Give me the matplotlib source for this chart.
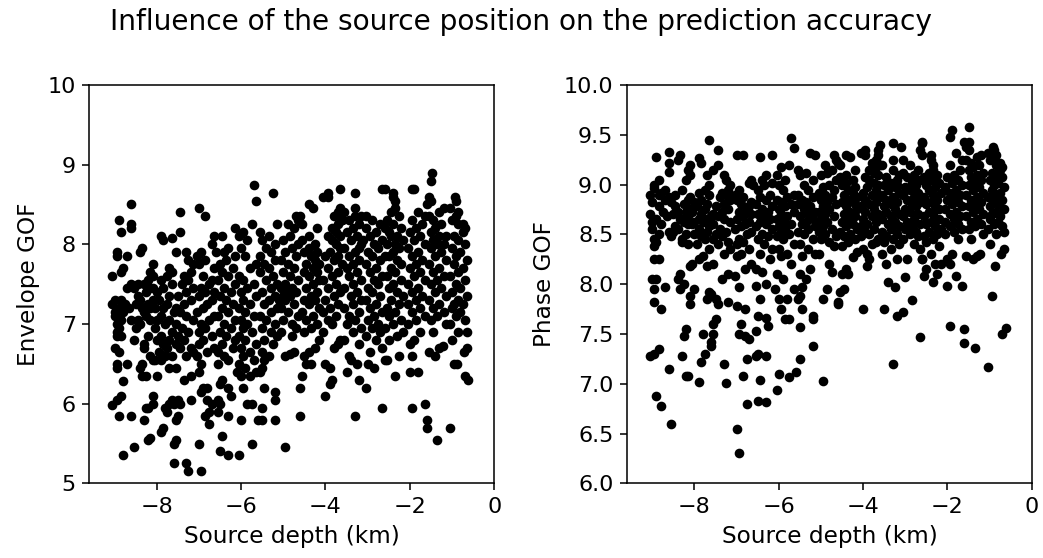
import matplotlib

matplotlib.use("Agg")

import matplotlib.pyplot as plt
import numpy as np

# source depth (km), one entry per event, shared by both panels
depth_km = [
    -8.8, -8.9, -8.6, -9.05, -8.95, -8.85, -8.8, -8.95, -8.95, -8.7, -8.9, -9.0, -8.95, -8.85, -8.95, -8.9, -8.95, -8.85, -8.6, -9.0, -8.8, -9.0, -8.9, -8.65, -9.05, -8.75, -8.85, -9.0, -8.7, -8.6, -9.05, -8.85, -8.8, -8.7, -8.95, -8.95, -8.85, -8.6, -8.6, -8.9, -8.6,
    -8.55, -8.2, -8.15, -8.3, -8.25, -8.2, -8.1, -8.1, -8.35, -8.25, -8.4, -8.35, -8.1, -8.15, -8.3, -8.3, -8.55, -8.2, -8.5, -8.4, -8.45, -8.15, -8.25, -8.3, -8.35, -8.15, -8.5, -8.2, -8.4, -8.1, -8.45, -8.25, -8.55, -8.15, -8.45, -8.3, -8.2, -8.1, -8.15, -8.1, -8.4, -8.35,
    -7.9, -7.85, -7.75, -7.8, -7.7, -7.6, -7.65, -8.0, -7.7, -8.05, -7.9, -7.8, -7.65, -7.95, -7.75, -7.85, -8.0, -7.7, -7.9, -7.65, -8.05, -7.8, -8.0, -7.7, -7.9, -7.6, -7.85, -8.05, -7.75, -7.95, -7.7, -8.0, -7.85, -8.1, -7.65, -7.9, -7.75, -7.65, -7.7, -7.85, -7.9, -7.65,
    -7.25, -7.3, -7.6, -7.6, -7.55, -7.55, -7.5, -7.45, -7.2, -7.5, -7.35, -7.2, -7.55, -7.3, -7.15, -7.45, -7.2, -7.55, -7.35, -7.5, -7.25, -7.4, -7.55, -7.15, -7.3, -7.45, -7.55, -7.35, -7.2, -7.5, -7.3, -7.15, -7.4, -7.25, -7.35, -7.2, -7.15, -7.25, -7.3, -7.55, -7.45, -7.45,
    -6.95, -7.0, -6.75, -6.85, -6.75, -6.7, -6.8, -6.95, -6.9, -6.8, -7.0, -6.95, -7.05, -6.8, -6.65, -7.0, -6.9, -6.7, -7.0, -6.85, -6.95, -6.75, -6.65, -7.05, -6.9, -6.8, -6.7, -7.0, -6.85, -6.65, -6.95, -6.75, -6.7, -6.9, -6.65, -7.0, -6.85, -7.05, -6.95, -6.6, -6.7, -6.65, -6.85, -7.0,
    -6.3, -6.5, -6.45, -6.3, -6.55, -6.5, -6.55, -6.25, -6.3, -6.5, -6.45, -6.1, -6.55, -6.3, -6.4, -6.55, -6.2, -6.45, -6.15, -6.35, -6.5, -6.25, -6.4, -6.15, -6.55, -6.3, -6.45, -6.2, -6.35, -6.5, -6.25, -6.4, -6.15, -6.55, -6.3, -6.45, -6.2, -6.5, -6.35, -6.15, -6.4, -6.3, -6.45, -6.15,
    -6.05, -5.75, -6.0, -5.6, -5.85, -5.75, -5.95, -6.0, -5.8, -5.65, -5.9, -6.05, -5.7, -5.95, -5.8, -6.0, -5.65, -5.9, -6.05, -5.75, -5.95, -5.85, -6.0, -5.7, -5.9, -6.05, -5.8, -5.95, -5.65, -6.0, -5.85, -5.7, -5.95, -6.05, -5.8, -5.65, -5.9, -6.0, -5.85, -6.05, -5.95, -5.75, -5.65, -5.7,
    -5.5, -5.2, -5.5, -5.2, -5.2, -5.45, -5.55, -5.5, -5.45, -5.35, -5.5, -5.25, -5.45, -5.15, -5.3, -5.5, -5.2, -5.4, -5.55, -5.3, -5.15, -5.45, -5.35, -5.2, -5.5, -5.3, -5.15, -5.4, -5.25, -5.55, -5.35, -5.45, -5.2, -5.55, -5.3, -5.4, -5.2, -5.5, -5.35, -5.55, -5.15, -5.25,
    -4.95, -4.6, -4.6, -4.95, -4.85, -4.75, -4.8, -5.05, -4.7, -4.8, -5.0, -4.65, -4.9, -5.05, -4.75, -4.95, -5.1, -4.85, -5.0, -4.7, -4.9, -5.05, -4.8, -4.95, -4.65, -4.85, -5.0, -4.75, -4.9, -5.05, -4.7, -4.95, -4.8, -4.65, -5.0, -4.85, -4.75, -4.9, -4.65, -4.7,
    -4.55, -4.45, -4.35, -4.5, -4.4, -4.25, -4.15, -4.5, -4.35, -4.2, -4.45, -4.3, -4.55, -4.15, -4.4, -4.25, -4.5, -4.35, -4.2, -4.45, -4.3, -4.15, -4.4, -4.2, -4.5, -4.3, -4.15, -4.45, -4.25, -4.35, -4.2, -4.5, -4.4, -4.25, -4.55, -4.4, -4.2, -4.55, -4.6, -4.3, -4.4, -4.05,
    -4.0, -3.9, -3.85, -3.9, -4.0, -3.8, -3.7, -3.65, -4.05, -3.85, -3.95, -3.75, -4.05, -3.9, -3.7, -4.0, -3.8, -3.65, -3.95, -3.75, -4.05, -3.85, -3.7, -3.95, -3.6, -3.8, -4.0, -3.7, -3.9, -3.65, -3.75, -3.85, -3.95, -3.65, -3.75, -3.85, -3.7, -3.6, -3.8, -3.7, -3.65, -3.95, -3.95, -3.65,
    -3.3, -3.2, -3.5, -3.25, -3.4, -3.45, -3.2, -3.55, -3.35, -3.15, -3.5, -3.3, -3.45, -3.2, -3.55, -3.35, -3.15, -3.4, -3.25, -3.55, -3.35, -3.15, -3.45, -3.25, -3.5, -3.35, -3.2, -3.45, -3.3, -3.55, -3.15, -3.4, -3.25, -3.5, -3.35, -3.2, -3.45, -3.15, -3.3, -3.55, -3.3, -3.6, -3.3, -3.2,
    -2.65, -3.05, -2.85, -3.0, -2.6, -2.95, -2.65, -2.8, -3.05, -2.7, -2.9, -2.75, -3.0, -2.85, -2.65, -2.95, -2.8, -3.05, -2.7, -2.9, -3.0, -2.75, -2.85, -2.65, -2.95, -2.8, -3.05, -2.7, -2.9, -3.0, -2.75, -2.85, -2.65, -2.95, -2.8, -3.05, -2.7, -2.9, -3.05, -2.6, -3.1, -2.6,
    -2.35, -2.55, -2.25, -2.5, -2.3, -2.15, -2.6, -2.4, -2.2, -2.5, -2.35, -2.55, -2.25, -2.45, -2.15, -2.3, -2.5, -2.4, -2.2, -2.55, -2.35, -2.45, -2.2, -2.3, -2.5, -2.4, -2.25, -2.55, -2.35, -2.15, -2.45, -2.3, -2.5, -2.2, -2.4, -2.55, -2.25, -2.45, -2.35, -2.35, -2.4, -2.4, -2.65, -2.6,
    -1.6, -1.6, -1.95, -1.65, -2.0, -1.8, -1.95, -2.0, -1.9, -1.75, -2.05, -1.85, -1.65, -1.95, -1.75, -2.05, -1.85, -1.7, -1.95, -1.8, -2.05, -1.65, -1.9, -1.75, -2.0, -1.85, -1.7, -1.95, -1.8, -2.05, -1.65, -1.9, -1.75, -2.0, -1.85, -1.7, -1.95, -1.65, -1.8, -1.6, -1.95, -1.9,
    -1.35, -1.4, -1.55, -1.3, -1.22, -1.45, -1.15, -1.5, -1.35, -1.2, -1.45, -1.3, -1.55, -1.15, -1.4, -1.25, -1.5, -1.35, -1.2, -1.45, -1.3, -1.55, -1.15, -1.4, -1.25, -1.5, -1.35, -1.2, -1.45, -1.3, -1.15, -1.5, -1.4, -1.25, -1.45, -1.55, -1.3, -1.2, -1.5, -1.55, -1.5, -1.48,
    -1.05, -0.62, -0.7, -0.95, -0.88, -0.72, -0.65, -1.0, -0.85, -0.65, -1.05, -0.7, -0.9, -0.8, -1.0, -0.75, -0.95, -0.85, -0.65, -1.0, -0.8, -0.9, -0.7, -1.05, -0.85, -0.75, -0.95, -0.65, -0.9, -0.8, -1.0, -0.7, -0.85, -0.95, -0.75, -0.7, -0.85, -0.75, -1.0, -0.9, -0.85, -1.05, -0.9, -0.92,
]

envelope_gof = [
    5.35, 5.85, 5.85, 5.98, 6.05, 6.1, 6.28, 6.45, 6.5, 6.5, 6.65, 6.7, 6.85, 6.85, 6.9, 6.95, 7.0, 7.05, 7.05, 7.1, 7.15, 7.15, 7.2, 7.2, 7.25, 7.25, 7.3, 7.3, 7.45, 7.5, 7.6, 7.65, 7.7, 7.85, 7.85, 7.9, 8.15, 8.2, 8.25, 8.3, 8.5,
    5.45, 5.55, 5.57, 5.8, 5.95, 5.95, 6.0, 6.1, 6.35, 6.35, 6.45, 6.5, 6.55, 6.6, 6.7, 6.75, 6.8, 6.85, 6.95, 7.0, 7.05, 7.05, 7.1, 7.15, 7.2, 7.2, 7.25, 7.25, 7.3, 7.3, 7.35, 7.4, 7.45, 7.45, 7.5, 7.5, 7.55, 7.6, 7.65, 7.75, 7.9, 7.95,
    5.65, 5.7, 5.9, 5.95, 6.0, 6.0, 6.05, 6.35, 6.45, 6.55, 6.55, 6.6, 6.6, 6.65, 6.7, 6.75, 6.8, 6.8, 6.85, 6.9, 6.95, 7.0, 7.05, 7.05, 7.1, 7.15, 7.2, 7.2, 7.25, 7.3, 7.35, 7.4, 7.45, 7.45, 7.5, 7.55, 7.6, 7.65, 7.7, 8.05, 8.1, 8.08,
    5.15, 5.25, 5.25, 5.5, 5.55, 5.8, 5.85, 6.0, 6.05, 6.05, 6.3, 6.35, 6.45, 6.6, 6.65, 6.7, 6.7, 6.75, 6.8, 6.85, 6.9, 6.95, 7.0, 7.05, 7.1, 7.15, 7.2, 7.25, 7.3, 7.35, 7.4, 7.45, 7.5, 7.55, 7.6, 7.65, 7.75, 7.8, 7.9, 7.9, 8.15, 8.4,
    5.15, 5.5, 5.75, 5.85, 5.9, 6.0, 6.05, 6.15, 6.2, 6.2, 6.4, 6.5, 6.6, 6.65, 6.7, 6.75, 6.8, 6.85, 6.9, 6.95, 7.0, 7.05, 7.1, 7.15, 7.2, 7.25, 7.3, 7.35, 7.4, 7.4, 7.45, 7.5, 7.55, 7.6, 7.7, 7.75, 7.8, 7.85, 7.9, 7.9, 8.0, 8.1, 8.35, 8.45,
    5.35, 5.4, 5.6, 5.85, 5.9, 6.0, 6.05, 6.1, 6.2, 6.25, 6.3, 6.4, 6.5, 6.55, 6.6, 6.65, 6.7, 6.75, 6.8, 6.85, 6.9, 6.95, 7.0, 7.05, 7.1, 7.15, 7.2, 7.25, 7.3, 7.35, 7.4, 7.45, 7.5, 7.55, 7.6, 7.65, 7.7, 7.75, 7.8, 7.85, 7.9, 7.95, 8.1, 8.2,
    5.35, 5.5, 5.8, 5.8, 6.0, 6.0, 6.2, 6.35, 6.35, 6.4, 6.45, 6.5, 6.55, 6.6, 6.65, 6.7, 6.75, 6.8, 6.85, 6.9, 6.95, 7.0, 7.05, 7.1, 7.15, 7.2, 7.25, 7.3, 7.35, 7.4, 7.45, 7.5, 7.55, 7.6, 7.7, 7.75, 7.85, 7.95, 8.05, 8.1, 8.15, 8.25, 8.55, 8.75,
    5.8, 5.8, 5.95, 6.05, 6.15, 6.2, 6.4, 6.45, 6.55, 6.6, 6.65, 6.75, 6.8, 6.85, 6.9, 6.95, 7.0, 7.05, 7.1, 7.15, 7.2, 7.25, 7.3, 7.35, 7.4, 7.45, 7.5, 7.55, 7.6, 7.65, 7.7, 7.75, 7.8, 7.85, 7.9, 7.95, 8.0, 8.05, 8.1, 8.15, 8.25, 8.65,
    5.45, 5.85, 6.2, 6.6, 6.62, 6.65, 6.85, 6.9, 6.95, 7.0, 7.05, 7.1, 7.15, 7.2, 7.25, 7.3, 7.3, 7.35, 7.35, 7.4, 7.4, 7.45, 7.45, 7.5, 7.55, 7.6, 7.65, 7.7, 7.75, 7.8, 7.85, 7.9, 7.95, 8.0, 8.05, 8.1, 8.2, 8.25, 8.3, 8.35,
    6.35, 6.5, 6.5, 6.6, 6.65, 6.7, 6.8, 6.9, 6.95, 7.0, 7.05, 7.1, 7.15, 7.2, 7.25, 7.3, 7.3, 7.35, 7.4, 7.45, 7.5, 7.55, 7.6, 7.65, 7.65, 7.7, 7.75, 7.75, 7.8, 7.85, 7.9, 7.9, 7.95, 8.0, 8.05, 8.1, 8.2, 8.25, 8.35, 8.45, 8.5, 8.6,
    6.1, 6.25, 6.3, 6.45, 6.5, 6.7, 6.75, 6.8, 6.9, 7.0, 7.05, 7.1, 7.15, 7.2, 7.25, 7.3, 7.35, 7.4, 7.45, 7.5, 7.55, 7.6, 7.65, 7.7, 7.75, 7.8, 7.85, 7.85, 7.9, 7.95, 8.0, 8.05, 8.1, 8.1, 8.15, 8.2, 8.25, 8.3, 8.35, 8.4, 8.45, 8.6, 8.65, 8.7,
    5.85, 6.3, 6.4, 6.5, 6.55, 6.6, 6.75, 6.8, 6.9, 6.95, 7.0, 7.05, 7.1, 7.15, 7.2, 7.25, 7.3, 7.35, 7.4, 7.45, 7.5, 7.55, 7.6, 7.65, 7.7, 7.75, 7.8, 7.85, 7.9, 7.95, 8.0, 8.05, 8.1, 8.15, 8.2, 8.25, 8.3, 8.35, 8.35, 8.4, 8.45, 8.3, 8.65, 7.95,
    5.95, 6.2, 6.45, 6.5, 6.55, 6.65, 6.7, 6.8, 6.85, 6.9, 6.95, 7.0, 7.05, 7.1, 7.15, 7.2, 7.25, 7.3, 7.35, 7.4, 7.45, 7.5, 7.55, 7.6, 7.65, 7.7, 7.75, 7.8, 7.85, 7.9, 7.95, 8.0, 8.05, 8.1, 8.15, 8.2, 8.25, 8.3, 8.35, 8.2, 8.05, 7.85,
    6.35, 6.55, 6.6, 6.8, 6.85, 6.9, 6.95, 7.0, 7.05, 7.1, 7.15, 7.2, 7.25, 7.3, 7.35, 7.4, 7.45, 7.5, 7.55, 7.6, 7.65, 7.7, 7.75, 7.8, 7.85, 7.9, 7.95, 8.0, 8.0, 8.05, 8.1, 8.1, 8.15, 8.2, 8.25, 8.3, 8.35, 8.4, 8.45, 8.55, 8.6, 8.65, 8.7, 8.7,
    5.7, 5.8, 5.95, 6.0, 6.4, 6.4, 6.6, 6.75, 6.8, 6.9, 7.0, 7.05, 7.1, 7.15, 7.2, 7.25, 7.3, 7.35, 7.4, 7.45, 7.5, 7.55, 7.6, 7.65, 7.7, 7.75, 7.8, 7.85, 7.9, 7.95, 8.0, 8.05, 8.1, 8.15, 8.2, 8.25, 8.3, 8.35, 8.4, 8.5, 8.7, 8.7,
    5.55, 6.6, 6.65, 6.7, 6.72, 6.9, 7.0, 7.05, 7.1, 7.15, 7.2, 7.25, 7.3, 7.35, 7.4, 7.45, 7.5, 7.55, 7.6, 7.65, 7.7, 7.75, 7.8, 7.85, 7.9, 7.95, 8.0, 8.0, 8.05, 8.1, 8.1, 8.15, 8.2, 8.25, 8.3, 8.35, 8.4, 8.45, 8.55, 8.6, 8.8, 8.9,
    5.7, 6.3, 6.35, 6.5, 6.5, 6.65, 6.7, 6.8, 6.9, 6.9, 7.0, 7.05, 7.1, 7.15, 7.2, 7.25, 7.25, 7.3, 7.35, 7.4, 7.45, 7.5, 7.55, 7.6, 7.65, 7.7, 7.75, 7.8, 7.85, 7.9, 7.95, 8.0, 8.05, 8.1, 8.15, 8.2, 8.25, 8.25, 8.3, 8.35, 8.4, 8.45, 8.55, 8.6,
]

phase_gof = [
    6.78, 6.88, 7.15, 7.28, 7.3, 7.35, 7.75, 7.82, 7.95, 7.97, 8.05, 8.05, 8.25, 8.25, 8.38, 8.42, 8.45, 8.5, 8.52, 8.55, 8.6, 8.62, 8.65, 8.68, 8.7, 8.72, 8.78, 8.82, 8.85, 8.88, 8.9, 8.9, 8.92, 8.95, 8.97, 9.0, 9.05, 9.13, 9.22, 9.28, 9.33,
    6.6, 7.08, 7.08, 7.28, 7.48, 7.55, 7.8, 7.88, 7.95, 8.0, 8.05, 8.1, 8.18, 8.4, 8.42, 8.45, 8.48, 8.5, 8.52, 8.55, 8.58, 8.6, 8.62, 8.65, 8.65, 8.68, 8.7, 8.72, 8.72, 8.75, 8.78, 8.8, 8.82, 8.85, 8.9, 8.95, 9.05, 9.1, 9.15, 9.2, 9.25, 9.3,
    7.02, 7.22, 7.3, 7.5, 7.85, 7.9, 7.92, 7.95, 8.18, 8.2, 8.25, 8.28, 8.35, 8.4, 8.45, 8.48, 8.5, 8.52, 8.55, 8.58, 8.6, 8.62, 8.62, 8.65, 8.65, 8.68, 8.7, 8.72, 8.75, 8.78, 8.8, 8.82, 8.85, 8.88, 8.9, 8.92, 8.95, 9.0, 9.1, 9.22, 9.27, 9.45,
    7.01, 7.2, 7.38, 7.42, 7.5, 7.6, 7.65, 7.8, 7.82, 7.85, 8.05, 8.1, 8.2, 8.3, 8.35, 8.4, 8.42, 8.45, 8.48, 8.5, 8.52, 8.55, 8.6, 8.62, 8.65, 8.68, 8.7, 8.72, 8.75, 8.78, 8.8, 8.85, 8.88, 8.9, 8.92, 8.95, 9.0, 9.05, 9.1, 9.15, 9.2, 9.35,
    6.3, 6.55, 6.8, 7.08, 7.25, 7.45, 7.48, 7.5, 7.6, 7.75, 7.78, 7.97, 8.08, 8.15, 8.2, 8.28, 8.3, 8.35, 8.4, 8.42, 8.45, 8.5, 8.52, 8.55, 8.58, 8.6, 8.62, 8.65, 8.68, 8.7, 8.72, 8.75, 8.78, 8.8, 8.82, 8.85, 8.88, 8.9, 8.95, 9.0, 9.02, 9.05, 9.3, 9.3,
    6.82, 6.83, 7.04, 7.28, 7.28, 7.3, 7.53, 7.58, 7.66, 7.68, 7.85, 7.95, 7.98, 8.0, 8.12, 8.15, 8.25, 8.3, 8.35, 8.4, 8.45, 8.48, 8.5, 8.55, 8.58, 8.6, 8.62, 8.65, 8.68, 8.7, 8.72, 8.75, 8.78, 8.8, 8.85, 8.88, 8.9, 8.95, 9.0, 9.02, 9.05, 9.1, 9.28, 9.3,
    6.94, 7.07, 7.1, 7.12, 7.65, 7.65, 7.75, 7.85, 7.85, 7.95, 8.05, 8.1, 8.2, 8.28, 8.3, 8.35, 8.4, 8.45, 8.48, 8.5, 8.52, 8.55, 8.58, 8.6, 8.62, 8.65, 8.68, 8.7, 8.72, 8.75, 8.78, 8.8, 8.82, 8.85, 8.88, 8.9, 8.95, 9.0, 9.05, 9.1, 9.18, 9.2, 9.37, 9.47,
    7.25, 7.38, 7.57, 7.65, 7.68, 7.75, 7.85, 7.88, 7.97, 8.05, 8.1, 8.15, 8.28, 8.3, 8.35, 8.4, 8.45, 8.5, 8.52, 8.55, 8.58, 8.6, 8.62, 8.65, 8.68, 8.7, 8.72, 8.75, 8.78, 8.8, 8.82, 8.85, 8.88, 8.9, 8.95, 9.0, 9.05, 9.1, 9.12, 9.15, 9.3, 9.32,
    7.03, 7.8, 7.82, 7.85, 7.95, 8.12, 8.2, 8.3, 8.38, 8.42, 8.45, 8.48, 8.5, 8.52, 8.55, 8.58, 8.6, 8.62, 8.65, 8.68, 8.7, 8.72, 8.75, 8.78, 8.8, 8.82, 8.85, 8.88, 8.9, 8.92, 8.95, 8.98, 9.0, 9.05, 9.1, 9.12, 9.15, 9.2, 9.25, 9.3,
    7.92, 7.95, 8.1, 8.1, 8.15, 8.27, 8.32, 8.38, 8.42, 8.45, 8.48, 8.5, 8.52, 8.55, 8.58, 8.6, 8.62, 8.65, 8.68, 8.7, 8.72, 8.75, 8.78, 8.8, 8.82, 8.85, 8.88, 8.9, 8.92, 8.95, 8.98, 9.0, 9.02, 9.05, 9.08, 9.1, 9.15, 9.2, 9.22, 9.28, 9.3, 9.32,
    7.75, 8.18, 8.25, 8.3, 8.35, 8.4, 8.42, 8.45, 8.48, 8.5, 8.52, 8.55, 8.58, 8.6, 8.62, 8.65, 8.68, 8.7, 8.72, 8.75, 8.78, 8.8, 8.82, 8.85, 8.88, 8.9, 8.92, 8.95, 8.98, 9.0, 9.02, 9.05, 9.08, 9.1, 9.12, 9.15, 9.18, 9.2, 9.22, 9.25, 9.3, 9.3, 9.35, 9.35,
    7.2, 7.68, 7.75, 7.97, 8.02, 8.2, 8.25, 8.3, 8.35, 8.4, 8.42, 8.45, 8.48, 8.5, 8.52, 8.55, 8.58, 8.6, 8.62, 8.65, 8.68, 8.7, 8.72, 8.75, 8.78, 8.8, 8.82, 8.85, 8.88, 8.9, 8.92, 8.95, 8.98, 9.0, 9.02, 9.05, 9.08, 9.1, 9.15, 9.2, 9.25, 9.4, 9.42, 9.0,
    7.47, 7.72, 7.84, 8.07, 8.25, 8.25, 8.35, 8.4, 8.45, 8.48, 8.5, 8.52, 8.55, 8.58, 8.6, 8.62, 8.65, 8.68, 8.7, 8.72, 8.75, 8.78, 8.8, 8.82, 8.85, 8.88, 8.9, 8.92, 8.95, 8.98, 9.0, 9.02, 9.05, 9.08, 9.1, 9.12, 9.15, 9.2, 9.25, 9.3, 9.38, 9.42,
    8.02, 8.08, 8.1, 8.15, 8.2, 8.2, 8.25, 8.3, 8.38, 8.42, 8.45, 8.48, 8.5, 8.52, 8.55, 8.58, 8.6, 8.62, 8.65, 8.68, 8.7, 8.72, 8.75, 8.78, 8.8, 8.82, 8.85, 8.88, 8.9, 8.92, 8.95, 8.98, 9.0, 9.02, 9.05, 9.08, 9.1, 9.12, 9.15, 9.2, 9.25, 9.3, 9.35, 9.43,
    7.41, 7.55, 7.58, 7.98, 7.98, 8.08, 8.2, 8.25, 8.3, 8.45, 8.5, 8.52, 8.55, 8.58, 8.6, 8.62, 8.65, 8.68, 8.7, 8.72, 8.75, 8.78, 8.8, 8.82, 8.85, 8.88, 8.9, 8.92, 8.95, 8.98, 9.0, 9.02, 9.05, 9.08, 9.1, 9.15, 9.2, 9.25, 9.32, 9.43, 9.48, 9.55,
    7.36, 8.25, 8.28, 8.28, 8.3, 8.45, 8.5, 8.55, 8.58, 8.6, 8.62, 8.65, 8.68, 8.7, 8.72, 8.75, 8.78, 8.8, 8.82, 8.85, 8.88, 8.9, 8.92, 8.95, 8.98, 9.0, 9.02, 9.05, 9.08, 9.1, 9.12, 9.15, 9.18, 9.2, 9.22, 9.25, 9.28, 9.3, 9.35, 9.38, 9.43, 9.58,
    7.17, 7.56, 7.5, 7.88, 8.18, 8.3, 8.35, 8.4, 8.5, 8.52, 8.55, 8.58, 8.6, 8.62, 8.65, 8.68, 8.7, 8.72, 8.75, 8.78, 8.8, 8.82, 8.85, 8.88, 8.9, 8.92, 8.95, 8.98, 9.0, 9.02, 9.05, 9.08, 9.1, 9.12, 9.15, 9.18, 9.2, 9.22, 9.25, 9.28, 9.3, 9.32, 9.35, 9.38,
]

depth = np.array(depth_km)
env = np.array(envelope_gof)
phase = np.array(phase_gof)

fig, (ax1, ax2) = plt.subplots(1, 2, figsize=(1043 / 139, 558 / 139), dpi=139)
fig.subplots_adjust(left=0.0856, right=0.9893, bottom=0.1338, top=0.8477, wspace=0.328)

fig.suptitle("Influence of the source position on the prediction accuracy",
             fontsize=14.5, y=0.985)

ax1.scatter(depth, env, s=16, c="black")
ax1.set_xlim(-9.6, 0)
ax1.set_ylim(5, 10)
ax1.set_xlabel("Source depth (km)", fontsize=12)
ax1.set_ylabel("Envelope GOF", fontsize=12)

ax2.scatter(depth, phase, s=16, c="black")
ax2.set_xlim(-9.6, 0)
ax2.set_ylim(6, 10)
ax2.set_yticks(np.arange(6, 10.01, 0.5))
ax2.set_xlabel("Source depth (km)", fontsize=12)
ax2.set_ylabel("Phase GOF", fontsize=12)

for ax in (ax1, ax2):
    ax.set_xticks([-8, -6, -4, -2, 0])
    ax.tick_params(labelsize=11.5)

plt.savefig("out.png", dpi=139)
plt.close()
